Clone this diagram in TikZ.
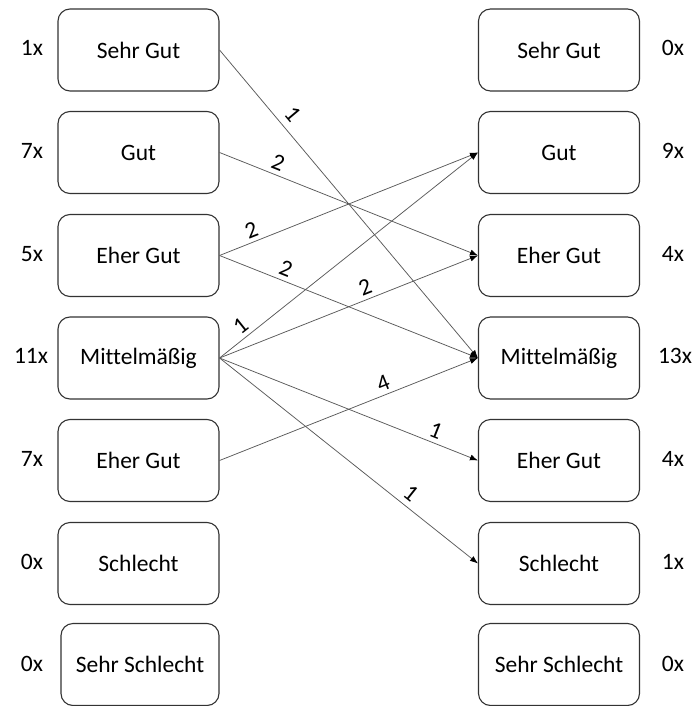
\documentclass[tikz,border=0pt]{standalone}
\usepackage{fontspec}
\setmainfont{Carlito}[Ligatures=NoCommon]
\usetikzlibrary{arrows.meta}
\begin{document}
\begin{tikzpicture}[x=1pt,y=-1pt,
  font=\fontsize{23.5}{27}\selectfont,
  rating/.style={draw=black!80, line width=1.1pt, rounded corners=12pt,
    minimum width=161pt, minimum height=82pt, inner sep=0pt},
  count/.style={inner sep=0pt},
  conn/.style={draw=black!65, line width=0.75pt},
  flow/.style={conn, -{Latex[length=8pt,width=6pt,black]}},
  weight/.style={sloped, above, inner sep=4pt}]
\useasboundingbox (0,0) rectangle (697,706);

% left column: ratings before
\node[rating] (L1) at (138.5,50)  {Sehr Gut};
\node[rating] (L2) at (138.5,152.5) {Gut};
\node[rating] (L3) at (138.5,255.5) {Eher Gut};
\node[rating] (L4) at (138.5,358) {Mittelmäßig};
\node[rating] (L5) at (138.5,460.5) {Eher Gut};
\node[rating] (L6) at (138.5,563.5) {Schlecht};
\node[rating, minimum width=158pt] (L7) at (140,664.5) {Sehr Schlecht};

% right column: ratings after
\node[rating] (R1) at (559,50)  {Sehr Gut};
\node[rating] (R2) at (559,152.5) {Gut};
\node[rating] (R3) at (559,255.5) {Eher Gut};
\node[rating] (R4) at (559,358) {Mittelmäßig};
\node[rating] (R5) at (559,460.5) {Eher Gut};
\node[rating] (R6) at (559,563.5) {Schlecht};
\node[rating] (R7) at (559,664.5) {Sehr Schlecht};

% counts
\node[count] (cL1) at (32,48)  {1x};
\node[count] (cL2) at (32,151) {7x};
\node[count] (cL3) at (32,254) {5x};
\node[count] (cL4) at (31,356) {11x};
\node[count] (cL5) at (32,459) {7x};
\node[count] (cL6) at (32,562) {0x};
\node[count] (cL7) at (32,664) {0x};
\node[count] (cR1) at (673,48)  {0x};
\node[count] (cR2) at (673,151) {9x};
\node[count] (cR3) at (673,254) {4x};
\node[count] (cR4) at (675,356) {13x};
\node[count] (cR5) at (673,459) {4x};
\node[count] (cR6) at (673,562) {1x};
\node[count] (cR7) at (673,664) {0x};

% transitions with their weights
\draw[flow] (L1.east) -- node[weight, pos=0.24, inner sep=7pt] {1} (R4.west);
\draw[flow] (L2.east) -- node[weight, pos=0.21] {2} (R3.west);
\draw[flow] (L3.east) -- node[weight, pos=0.14] {2} (R2.west);
\draw[flow] (L3.east) -- node[weight, pos=0.24] {2} (R4.west);
\draw[flow] (L4.east) -- node[weight, pos=0.11] {1} (R2.west);
\draw[flow] (L4.east) -- node[weight, pos=0.58] {2} (R3.west);
\draw[flow] (L4.east) -- node[weight, pos=0.82] {1} (R5.west);
\draw[flow] (L4.east) -- node[weight, pos=0.71, inner sep=5pt] {1} (R6.west);
\draw[flow] (L5.east) -- node[weight, pos=0.65] {4} (R4.west);
\end{tikzpicture}
\end{document}
